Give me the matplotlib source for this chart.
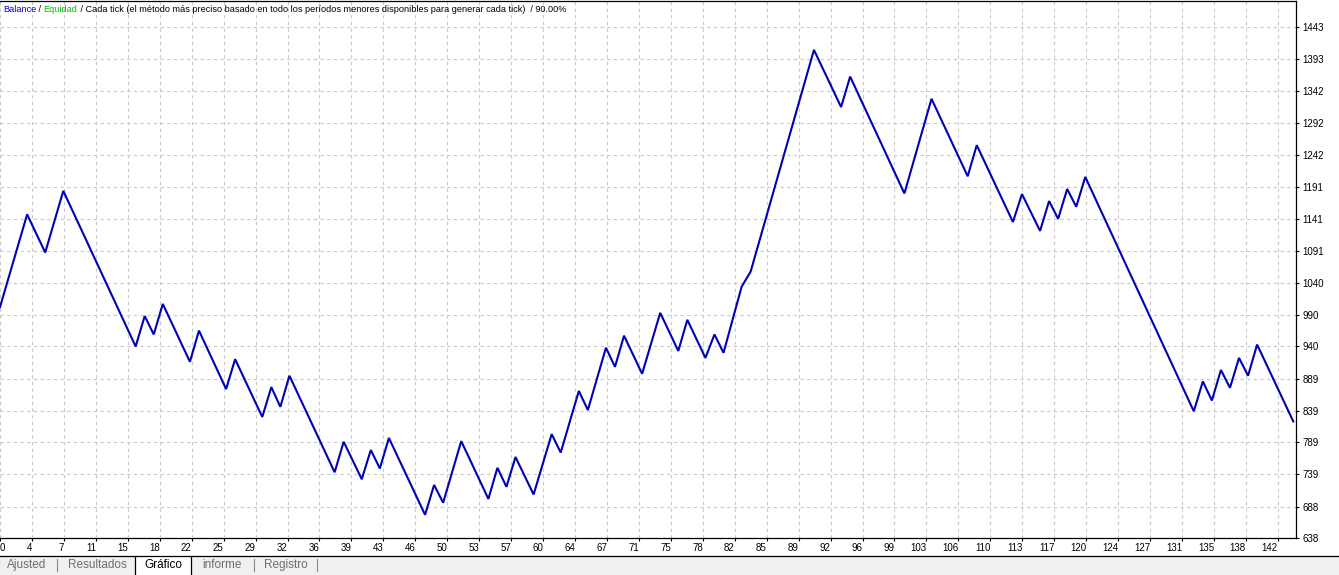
import matplotlib
matplotlib.use("Agg")
import matplotlib.pyplot as plt
from matplotlib.patches import Rectangle
from matplotlib.lines import Line2D

# balance curve turning points (trade number, balance)
trade_no = [0, 3, 5, 7, 15, 16, 17, 18, 21, 22, 25, 26, 29, 30, 31, 32, 37, 38,
            40, 41, 42, 43, 47, 48, 49, 51, 54, 55, 56, 57, 59, 61, 62, 64, 65,
            67, 68, 69, 71, 73, 75, 76, 78, 79, 80, 82, 83, 90, 93, 94, 100, 103,
            107, 108, 112, 113, 115, 116, 117, 118, 119, 120, 132, 133, 134, 135,
            136, 137, 138, 139, 143]
balance = [1002, 1148, 1088, 1185, 940, 988, 959, 1007, 916, 965, 873, 920, 829,
           876, 845, 894, 742, 790, 731, 777, 748, 796, 675, 722, 694, 791, 700,
           749, 719, 766, 707, 802, 773, 870, 840, 938, 908, 957, 897, 993, 933,
           982, 922, 959, 930, 1034, 1058, 1407, 1317, 1365, 1181, 1330, 1208,
           1257, 1136, 1180, 1122, 1169, 1141, 1188, 1160, 1207, 838, 885, 855,
           903, 875, 922, 894, 943, 822]

x_labels = ['0', '4', '7', '11', '15', '18', '22', '25', '29', '32', '36', '39',
            '43', '46', '50', '53', '57', '60', '64', '67', '71', '75', '78', '82',
            '85', '89', '92', '96', '99', '103', '106', '110', '113', '117', '120',
            '124', '127', '131', '135', '138', '142']
y_ticks = [638, 688, 739, 789, 839, 889, 940, 990, 1040, 1091, 1141, 1191, 1242,
           1292, 1342, 1393, 1443]

tabs = ['Ajusted', 'Resultados', 'Gráfico', 'informe', 'Registro']

FONT = 'Liberation Sans'
plt.rcParams['font.family'] = FONT

W, H = 1339, 575
fig = plt.figure(figsize=(W / 100, H / 100), dpi=100)

# plot area in pixels
left, right, top, bottom = 0, 1296, 1, 538.3
ax = fig.add_axes([left / W, (H - bottom) / H, (right - left) / W, (bottom - top) / H])

ax.plot(trade_no, balance, color='#0000b4', lw=1.5, solid_joinstyle='miter')

x_step = 31.95 / 9.045  # trades per grid cell
ax.set_xlim(0, 143.3)
ax.set_ylim(638, 1484)
ax.set_xticks([k * x_step for k in range(len(x_labels))])
ax.set_xticklabels(x_labels, ha='right')
ax.get_xticklabels()[0].set_ha('left')
ax.set_yticks(y_ticks)
ax.set_yticklabels([str(v) for v in y_ticks])

ax.yaxis.tick_right()
ax.tick_params(axis='both', labelsize=7, colors='black', length=2.5, width=0.8, pad=1)
ax.tick_params(axis='y', pad=2)

ax.grid(True, color='#c8c8c8', lw=0.8, ls=(0, (3, 3)))
ax.set_axisbelow(True)
ax.spines['left'].set_visible(False)
for s in ['right', 'bottom', 'top']:
    ax.spines[s].set_linewidth(0.9)
    ax.spines[s].set_color('black')

# header text
fs_head = 6.6
t1 = ax.text(3 / W, (H - 9) / H, 'Balance', transform=fig.transFigure, color='#0000c8',
             fontsize=fs_head, va='center', ha='left')
t2 = ax.annotate(' / ', xy=(1, 0), xycoords=t1, va='bottom', ha='left',
                 fontsize=fs_head, color='black')
t3 = ax.annotate('Equidad', xy=(1, 0), xycoords=t2, va='bottom', ha='left',
                 fontsize=fs_head, color='#00c000')
ax.annotate(' / Cada tick (el método más preciso basado en todo los períodos menores '
            'disponibles para generar cada tick)  / 90.00%', xy=(1, 0), xycoords=t3,
            va='bottom', ha='left', fontsize=fs_head, color='black')

# bottom tab bar
fig.patches.append(Rectangle((0, 0), 1, (H - 556) / H, transform=fig.transFigure,
                             facecolor='#f0f0f0', edgecolor='none', zorder=0))
fig.lines.append(Line2D([0, 1], [(H - 556) / H] * 2, transform=fig.transFigure,
                        color='black', lw=0.9))
fig.patches.append(Rectangle((135 / W, 0), 56 / W, (H - 556) / H, transform=fig.transFigure,
                             facecolor='white', edgecolor='none', zorder=1))
for xb in [135, 191]:
    fig.lines.append(Line2D([xb / W] * 2, [0, (H - 556) / H], transform=fig.transFigure,
                            color='black', lw=0.9))

tab_x = [7, 68, 144, 202, 264]
sep_x = [57, 254, 317]
for name, xt in zip(tabs, tab_x):
    fig.text(xt / W, (H - 565) / H, name, fontsize=8.5, va='center', ha='left',
             color='black' if name == 'Gráfico' else '#6d6d6d')
for xs in sep_x:
    fig.lines.append(Line2D([xs / W] * 2, [(H - 571) / H, (H - 559) / H],
                            transform=fig.transFigure, color='#8a8a8a', lw=0.8))

fig.savefig('out.png', dpi=100)
